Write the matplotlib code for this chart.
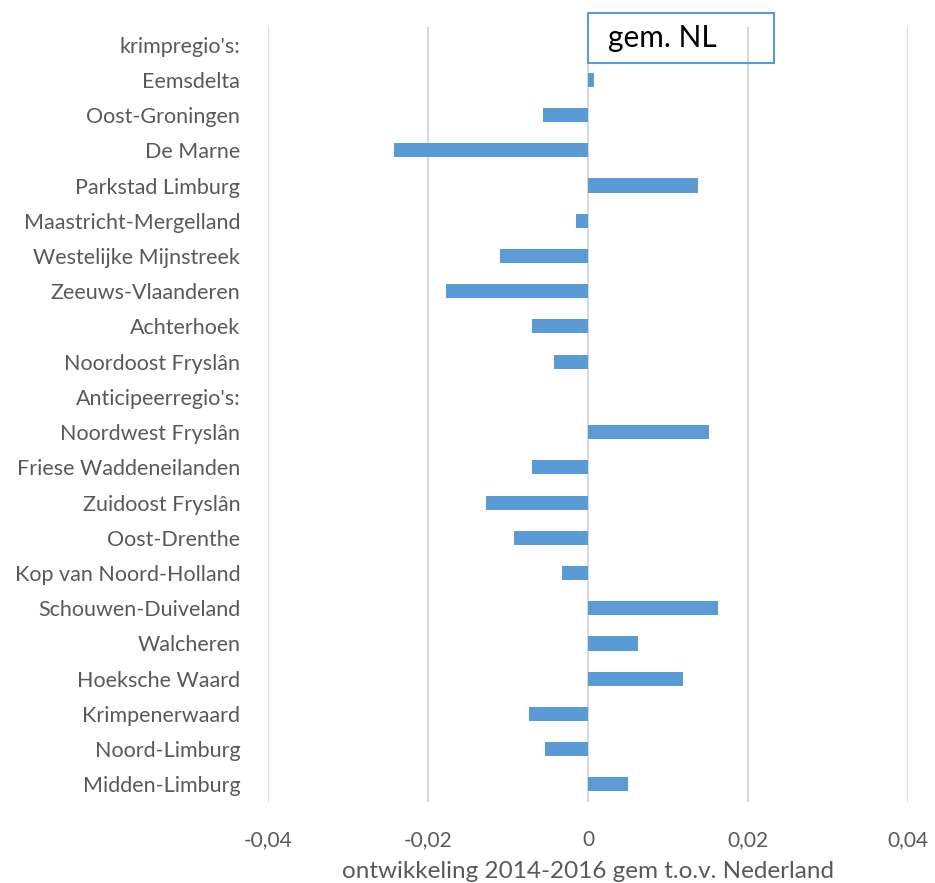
import matplotlib
matplotlib.use("Agg")
import matplotlib.pyplot as plt
import numpy as np
from matplotlib.ticker import FuncFormatter

regions = [
    "krimpregio's:", "Eemsdelta", "Oost-Groningen", "De Marne", "Parkstad Limburg",
    "Maastricht-Mergelland", "Westelijke Mijnstreek", "Zeeuws-Vlaanderen", "Achterhoek",
    "Noordoost Fryslân", "Anticipeerregio's:", "Noordwest Fryslân", "Friese Waddeneilanden",
    "Zuidoost Fryslân", "Oost-Drenthe", "Kop van Noord-Holland", "Schouwen-Duiveland",
    "Walcheren", "Hoeksche Waard", "Krimpenerwaard", "Noord-Limburg", "Midden-Limburg",
]
values = [
    np.nan, 0.0008, -0.0056, -0.0243, 0.0138,
    -0.0015, -0.0110, -0.0178, -0.0070,
    -0.0043, np.nan, 0.0151, -0.0070,
    -0.0128, -0.0093, -0.0033, 0.0163,
    0.0063, 0.0119, -0.0074, -0.0054, 0.0050,
]
xticks = [-0.04, -0.02, 0, 0.02, 0.04]

plt.rcParams["font.family"] = ["Lato", "DejaVu Sans"]
blue = "#5B9BD5"
grey_txt = "#595959"

fig = plt.figure(figsize=(9.35, 8.83), dpi=100)
ax = fig.add_axes([268 / 935, 1 - 802 / 883, 640 / 935, 775 / 883])

y = np.arange(len(regions))
ax.barh(y, np.nan_to_num(values), height=0.4, color=blue, zorder=2)
ax.set_ylim(len(regions) - 0.5, -0.5)
ax.set_yticks(y)
ax.set_yticklabels(regions, fontsize=15.5, color=grey_txt)
ax.tick_params(axis="y", length=0, pad=20)

ax.set_xlim(-0.04, 0.04)
ax.set_xticks(xticks)
ax.xaxis.set_major_formatter(FuncFormatter(lambda v, _: "0" if abs(v) < 1e-12 else f"{v:.2f}".replace(".", ",")))
ax.tick_params(axis="x", length=0, pad=20, labelsize=15, labelcolor=grey_txt)
ax.grid(axis="x", color="#D9D9D9", lw=1.5, zorder=0)
ax.set_axisbelow(True)
for s in ax.spines.values():
    s.set_visible(False)
ax.set_xlabel("ontwikkeling 2014-2016 gem t.o.v. Nederland", fontsize=17.5, color=grey_txt, labelpad=8)

fig.text(608 / 935, 1 - 38 / 883, "gem. NL", fontsize=21.5, color="black", va="center", ha="left")
box = plt.Rectangle((588 / 935, 1 - 63 / 883), 186 / 935, 50 / 883, transform=fig.transFigure,
                    fill=False, edgecolor=blue, lw=1.5)
fig.add_artist(box)

fig.savefig("out.png", dpi=100)
